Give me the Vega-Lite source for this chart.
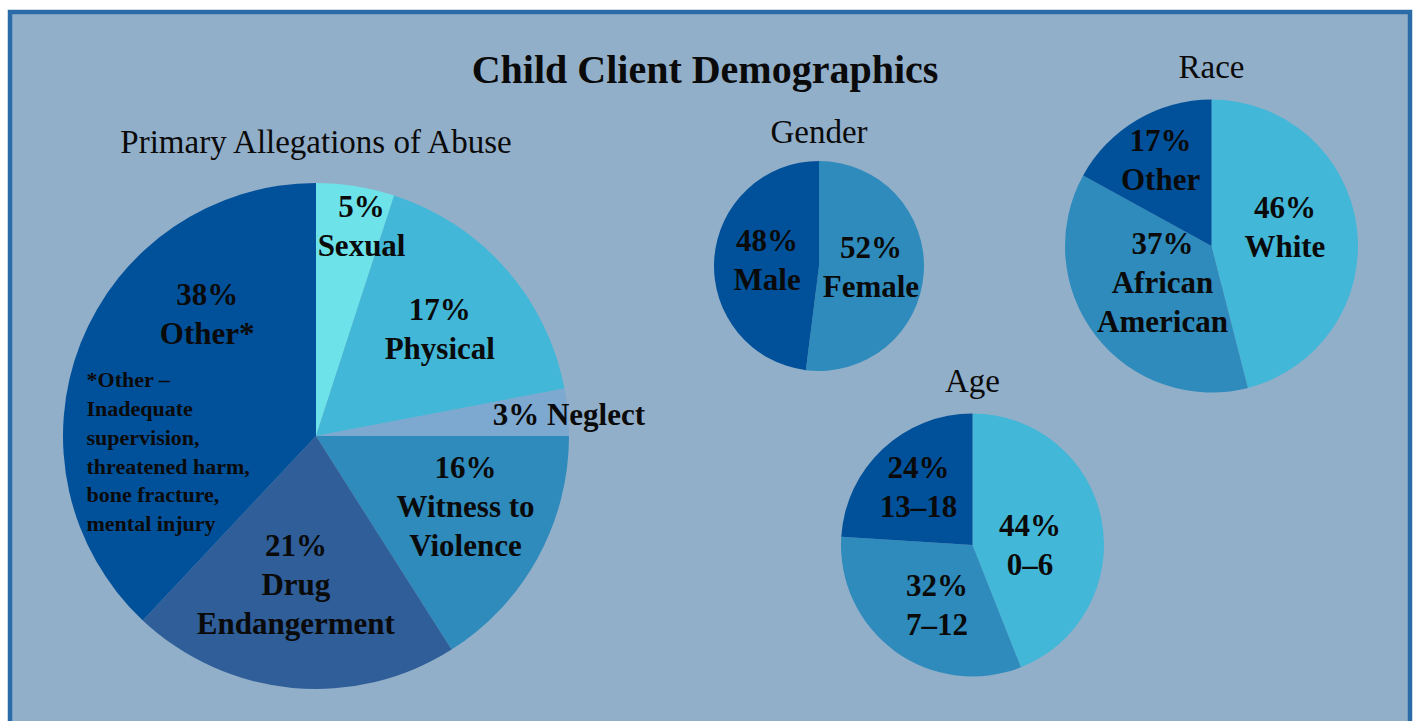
{
  "$schema": "https://vega.github.io/schema/vega-lite/v6.json",
  "width": 1417,
  "height": 721,
  "autosize": {"type": "fit", "contains": "padding"},
  "padding": {"left": 10, "top": 12, "right": 7, "bottom": -6},
  "background": "#ffffff",
  "config": {
    "view": {"fill": "#92AFC9", "stroke": "#2B6BA8", "strokeWidth": 4.5},
    "text": {"font": "Liberation Serif", "color": "#0a0a0a"}
  },
  "datasets": {
    "slices": [
      {"panel": 1, "i": 1, "category": "Sexual", "value": 5, "label": "5%\nSexual"},
      {"panel": 1, "i": 2, "category": "Physical", "value": 17, "label": "17%\nPhysical"},
      {"panel": 1, "i": 3, "category": "Neglect", "value": 3, "label": "3% Neglect"},
      {"panel": 1, "i": 4, "category": "Witness to Violence", "value": 16, "label": "16%\nWitness to\nViolence"},
      {"panel": 1, "i": 5, "category": "Drug Endangerment", "value": 21, "label": "21%\nDrug\nEndangerment"},
      {"panel": 1, "i": 6, "category": "Other*", "value": 38, "label": "38%\nOther*"},
      {"panel": 2, "i": 1, "category": "Female", "value": 52, "label": "52%\nFemale"},
      {"panel": 2, "i": 2, "category": "Male", "value": 48, "label": "48%\nMale"},
      {"panel": 3, "i": 1, "category": "White", "value": 46, "label": "46%\nWhite"},
      {"panel": 3, "i": 2, "category": "African American", "value": 37, "label": "37%\nAfrican\nAmerican"},
      {"panel": 3, "i": 3, "category": "Other", "value": 17, "label": "17%\nOther"},
      {"panel": 4, "i": 1, "category": "0–6", "value": 44, "label": "44%\n0–6"},
      {"panel": 4, "i": 2, "category": "7–12", "value": 32, "label": "32%\n7–12"},
      {"panel": 4, "i": 3, "category": "13–18", "value": 24, "label": "24%\n13–18"}
    ],
    "titles": [
      {"panel": 0, "title": "Child Client Demographics"},
      {"panel": 1, "title": "Primary Allegations of Abuse"},
      {"panel": 2, "title": "Gender"},
      {"panel": 3, "title": "Race"},
      {"panel": 4, "title": "Age"}
    ],
    "note": [
      {"panel": 1, "note": "*Other –\nInadequate\nsupervision,\nthreatened harm,\nbone fracture,\nmental injury"}
    ]
  },
  "data": {"name": "slices"},
  "resolve": {"scale": {"y": "independent"}},
  "layer": [
    {
      "transform": [{"filter": "datum.panel === 1"}],
      "mark": {"type": "arc", "radius": 253},
      "encoding": {
        "x": {"field": "panel", "type": "quantitative", "scale": {"type": "linear", "domain": [0, 1, 2, 3, 4], "range": [695, 306, 809, 1201.5, 962.5], "zero": false, "nice": false}, "axis": null},
        "y": {"field": "panel", "type": "quantitative", "scale": {"type": "linear", "domain": [1, 2, 3, 4], "range": [424, 254, 234, 533], "zero": false, "nice": false}, "axis": null},
        "theta": {"field": "value", "type": "quantitative", "stack": true, "scale": {"domain": [0, 100]}},
        "order": {"field": "i", "type": "quantitative"},
        "color": {"field": "category", "type": "nominal", "legend": null, "scale": {"domain": ["Sexual", "Physical", "Neglect", "Witness to Violence", "Drug Endangerment", "Other*", "Female", "Male", "White", "African American", "Other", "0–6", "7–12", "13–18"], "range": ["#6DE3E9", "#42B7D7", "#7DA8D0", "#2E8BBC", "#2F5E98", "#01519A", "#2E8BBC", "#01519A", "#42B7D7", "#2E8BBC", "#01519A", "#42B7D7", "#2E8BBC", "#01519A"]}}
      }
    },
    {
      "transform": [{"filter": "datum.panel === 2"}],
      "mark": {"type": "arc", "radius": 105},
      "encoding": {
        "x": {"field": "panel", "type": "quantitative", "scale": {"type": "linear", "domain": [0, 1, 2, 3, 4], "range": [695, 306, 809, 1201.5, 962.5], "zero": false, "nice": false}, "axis": null},
        "y": {"field": "panel", "type": "quantitative", "scale": {"type": "linear", "domain": [1, 2, 3, 4], "range": [424, 254, 234, 533], "zero": false, "nice": false}, "axis": null},
        "theta": {"field": "value", "type": "quantitative", "stack": true, "scale": {"domain": [0, 100]}},
        "order": {"field": "i", "type": "quantitative"},
        "color": {"field": "category", "type": "nominal", "legend": null}
      }
    },
    {
      "transform": [{"filter": "datum.panel === 3"}],
      "mark": {"type": "arc", "radius": 146.5},
      "encoding": {
        "x": {"field": "panel", "type": "quantitative", "scale": {"type": "linear", "domain": [0, 1, 2, 3, 4], "range": [695, 306, 809, 1201.5, 962.5], "zero": false, "nice": false}, "axis": null},
        "y": {"field": "panel", "type": "quantitative", "scale": {"type": "linear", "domain": [1, 2, 3, 4], "range": [424, 254, 234, 533], "zero": false, "nice": false}, "axis": null},
        "theta": {"field": "value", "type": "quantitative", "stack": true, "scale": {"domain": [0, 100]}},
        "order": {"field": "i", "type": "quantitative"},
        "color": {"field": "category", "type": "nominal", "legend": null}
      }
    },
    {
      "transform": [{"filter": "datum.panel === 4"}],
      "mark": {"type": "arc", "radius": 131.5},
      "encoding": {
        "x": {"field": "panel", "type": "quantitative", "scale": {"type": "linear", "domain": [0, 1, 2, 3, 4], "range": [695, 306, 809, 1201.5, 962.5], "zero": false, "nice": false}, "axis": null},
        "y": {"field": "panel", "type": "quantitative", "scale": {"type": "linear", "domain": [1, 2, 3, 4], "range": [424, 254, 234, 533], "zero": false, "nice": false}, "axis": null},
        "theta": {"field": "value", "type": "quantitative", "stack": true, "scale": {"domain": [0, 100]}},
        "order": {"field": "i", "type": "quantitative"},
        "color": {"field": "category", "type": "nominal", "legend": null}
      }
    },
    {
      "transform": [{"filter": "datum.panel === 1"}],
      "mark": {"type": "text", "radius": 165, "dy": -16, "fontSize": 31, "fontWeight": "bold", "lineHeight": 39, "lineBreak": "\n", "baseline": "middle", "align": "center"},
      "encoding": {
        "x": {"field": "panel", "type": "quantitative", "scale": {"type": "linear", "domain": [0, 1, 2, 3, 4], "range": [695, 306, 809, 1201.5, 962.5], "zero": false, "nice": false}, "axis": null},
        "y": {"field": "panel", "type": "quantitative", "scale": {"type": "linear", "domain": [1, 2, 3, 4], "range": [424, 254, 234, 533], "zero": false, "nice": false}, "axis": null},
        "theta": {"field": "value", "type": "quantitative", "stack": true, "scale": {"domain": [0, 100]}},
        "order": {"field": "i", "type": "quantitative"},
        "detail": {"field": "category", "type": "nominal"},
        "text": {"condition": {"test": "datum.category === 'Physical'", "field": "label", "type": "nominal"}, "value": ""}
      }
    },
    {
      "transform": [{"filter": "datum.panel === 1"}],
      "mark": {"type": "text", "radius": 214.5, "dx": 12, "dy": -16, "fontSize": 31, "fontWeight": "bold", "lineHeight": 39, "lineBreak": "\n", "baseline": "middle", "align": "center"},
      "encoding": {
        "x": {"field": "panel", "type": "quantitative", "scale": {"type": "linear", "domain": [0, 1, 2, 3, 4], "range": [695, 306, 809, 1201.5, 962.5], "zero": false, "nice": false}, "axis": null},
        "y": {"field": "panel", "type": "quantitative", "scale": {"type": "linear", "domain": [1, 2, 3, 4], "range": [424, 254, 234, 533], "zero": false, "nice": false}, "axis": null},
        "theta": {"field": "value", "type": "quantitative", "stack": true, "scale": {"domain": [0, 100]}},
        "order": {"field": "i", "type": "quantitative"},
        "detail": {"field": "category", "type": "nominal"},
        "text": {"condition": {"test": "datum.category === 'Sexual'", "field": "label", "type": "nominal"}, "value": ""}
      }
    },
    {
      "transform": [{"filter": "datum.panel === 1"}],
      "mark": {"type": "text", "radius": 254, "dy": 4, "fontSize": 31, "fontWeight": "bold", "lineHeight": 39, "lineBreak": "\n", "baseline": "middle", "align": "center"},
      "encoding": {
        "x": {"field": "panel", "type": "quantitative", "scale": {"type": "linear", "domain": [0, 1, 2, 3, 4], "range": [695, 306, 809, 1201.5, 962.5], "zero": false, "nice": false}, "axis": null},
        "y": {"field": "panel", "type": "quantitative", "scale": {"type": "linear", "domain": [1, 2, 3, 4], "range": [424, 254, 234, 533], "zero": false, "nice": false}, "axis": null},
        "theta": {"field": "value", "type": "quantitative", "stack": true, "scale": {"domain": [0, 100]}},
        "order": {"field": "i", "type": "quantitative"},
        "detail": {"field": "category", "type": "nominal"},
        "text": {"condition": {"test": "datum.category === 'Neglect'", "field": "label", "type": "nominal"}, "value": ""}
      }
    },
    {
      "transform": [{"filter": "datum.panel === 1"}],
      "mark": {"type": "text", "radius": 166, "dx": 4, "dy": -47, "fontSize": 31, "fontWeight": "bold", "lineHeight": 39, "lineBreak": "\n", "baseline": "middle", "align": "center"},
      "encoding": {
        "x": {"field": "panel", "type": "quantitative", "scale": {"type": "linear", "domain": [0, 1, 2, 3, 4], "range": [695, 306, 809, 1201.5, 962.5], "zero": false, "nice": false}, "axis": null},
        "y": {"field": "panel", "type": "quantitative", "scale": {"type": "linear", "domain": [1, 2, 3, 4], "range": [424, 254, 234, 533], "zero": false, "nice": false}, "axis": null},
        "theta": {"field": "value", "type": "quantitative", "stack": true, "scale": {"domain": [0, 100]}},
        "order": {"field": "i", "type": "quantitative"},
        "detail": {"field": "category", "type": "nominal"},
        "text": {"condition": {"test": "datum.category === 'Witness to Violence'", "field": "label", "type": "nominal"}, "value": ""}
      }
    },
    {
      "transform": [{"filter": "datum.panel === 1"}],
      "mark": {"type": "text", "radius": 150, "dx": -6, "dy": -38, "fontSize": 31, "fontWeight": "bold", "lineHeight": 39, "lineBreak": "\n", "baseline": "middle", "align": "center"},
      "encoding": {
        "x": {"field": "panel", "type": "quantitative", "scale": {"type": "linear", "domain": [0, 1, 2, 3, 4], "range": [695, 306, 809, 1201.5, 962.5], "zero": false, "nice": false}, "axis": null},
        "y": {"field": "panel", "type": "quantitative", "scale": {"type": "linear", "domain": [1, 2, 3, 4], "range": [424, 254, 234, 533], "zero": false, "nice": false}, "axis": null},
        "theta": {"field": "value", "type": "quantitative", "stack": true, "scale": {"domain": [0, 100]}},
        "order": {"field": "i", "type": "quantitative"},
        "detail": {"field": "category", "type": "nominal"},
        "text": {"condition": {"test": "datum.category === 'Drug Endangerment'", "field": "label", "type": "nominal"}, "value": ""}
      }
    },
    {
      "transform": [{"filter": "datum.category === 'Other*'"}],
      "mark": {"type": "text", "radius": 163, "theta": 5.552, "dy": -19, "fontSize": 31, "fontWeight": "bold", "lineHeight": 39, "lineBreak": "\n", "baseline": "middle", "align": "center"},
      "encoding": {
        "x": {"field": "panel", "type": "quantitative", "scale": {"type": "linear", "domain": [0, 1, 2, 3, 4], "range": [695, 306, 809, 1201.5, 962.5], "zero": false, "nice": false}, "axis": null},
        "y": {"field": "panel", "type": "quantitative", "scale": {"type": "linear", "domain": [1, 2, 3, 4], "range": [424, 254, 234, 533], "zero": false, "nice": false}, "axis": null},
        "text": {"field": "label", "type": "nominal"}
      }
    },
    {
      "data": {"name": "note"},
      "mark": {"type": "text", "radius": 230, "theta": 4.645, "dy": -71, "fontSize": 22, "fontWeight": "bold", "lineHeight": 28.7, "lineBreak": "\n", "baseline": "middle", "align": "left"},
      "encoding": {
        "x": {"field": "panel", "type": "quantitative", "scale": {"type": "linear", "domain": [0, 1, 2, 3, 4], "range": [695, 306, 809, 1201.5, 962.5], "zero": false, "nice": false}, "axis": null},
        "y": {"field": "panel", "type": "quantitative", "scale": {"type": "linear", "domain": [1, 2, 3, 4], "range": [424, 254, 234, 533], "zero": false, "nice": false}, "axis": null},
        "text": {"field": "note", "type": "nominal"}
      }
    },
    {
      "transform": [{"filter": "datum.panel === 2"}],
      "mark": {"type": "text", "radius": 52, "dy": -20.5, "fontSize": 31, "fontWeight": "bold", "lineHeight": 39, "lineBreak": "\n", "baseline": "middle", "align": "center"},
      "encoding": {
        "x": {"field": "panel", "type": "quantitative", "scale": {"type": "linear", "domain": [0, 1, 2, 3, 4], "range": [695, 306, 809, 1201.5, 962.5], "zero": false, "nice": false}, "axis": null},
        "y": {"field": "panel", "type": "quantitative", "scale": {"type": "linear", "domain": [1, 2, 3, 4], "range": [424, 254, 234, 533], "zero": false, "nice": false}, "axis": null},
        "theta": {"field": "value", "type": "quantitative", "stack": true, "scale": {"domain": [0, 100]}},
        "order": {"field": "i", "type": "quantitative"},
        "detail": {"field": "category", "type": "nominal"},
        "text": {"field": "label", "type": "nominal"}
      }
    },
    {
      "transform": [{"filter": "datum.panel === 3"}],
      "mark": {"type": "text", "radius": 74, "dy": -28, "fontSize": 31, "fontWeight": "bold", "lineHeight": 39, "lineBreak": "\n", "baseline": "middle", "align": "center"},
      "encoding": {
        "x": {"field": "panel", "type": "quantitative", "scale": {"type": "linear", "domain": [0, 1, 2, 3, 4], "range": [695, 306, 809, 1201.5, 962.5], "zero": false, "nice": false}, "axis": null},
        "y": {"field": "panel", "type": "quantitative", "scale": {"type": "linear", "domain": [1, 2, 3, 4], "range": [424, 254, 234, 533], "zero": false, "nice": false}, "axis": null},
        "theta": {"field": "value", "type": "quantitative", "stack": true, "scale": {"domain": [0, 100]}},
        "order": {"field": "i", "type": "quantitative"},
        "detail": {"field": "category", "type": "nominal"},
        "text": {"condition": {"test": "datum.category === 'White'", "field": "label", "type": "nominal"}, "value": ""}
      }
    },
    {
      "transform": [{"filter": "datum.panel === 3"}],
      "mark": {"type": "text", "radius": 62, "dy": -39, "fontSize": 31, "fontWeight": "bold", "lineHeight": 39, "lineBreak": "\n", "baseline": "middle", "align": "center"},
      "encoding": {
        "x": {"field": "panel", "type": "quantitative", "scale": {"type": "linear", "domain": [0, 1, 2, 3, 4], "range": [695, 306, 809, 1201.5, 962.5], "zero": false, "nice": false}, "axis": null},
        "y": {"field": "panel", "type": "quantitative", "scale": {"type": "linear", "domain": [1, 2, 3, 4], "range": [424, 254, 234, 533], "zero": false, "nice": false}, "axis": null},
        "theta": {"field": "value", "type": "quantitative", "stack": true, "scale": {"domain": [0, 100]}},
        "order": {"field": "i", "type": "quantitative"},
        "detail": {"field": "category", "type": "nominal"},
        "text": {"condition": {"test": "datum.category === 'African American'", "field": "label", "type": "nominal"}, "value": ""}
      }
    },
    {
      "transform": [{"filter": "datum.panel === 3"}],
      "mark": {"type": "text", "radius": 100, "dy": -18, "fontSize": 31, "fontWeight": "bold", "lineHeight": 39, "lineBreak": "\n", "baseline": "middle", "align": "center"},
      "encoding": {
        "x": {"field": "panel", "type": "quantitative", "scale": {"type": "linear", "domain": [0, 1, 2, 3, 4], "range": [695, 306, 809, 1201.5, 962.5], "zero": false, "nice": false}, "axis": null},
        "y": {"field": "panel", "type": "quantitative", "scale": {"type": "linear", "domain": [1, 2, 3, 4], "range": [424, 254, 234, 533], "zero": false, "nice": false}, "axis": null},
        "theta": {"field": "value", "type": "quantitative", "stack": true, "scale": {"domain": [0, 100]}},
        "order": {"field": "i", "type": "quantitative"},
        "detail": {"field": "category", "type": "nominal"},
        "text": {"condition": {"test": "datum.category === 'Other'", "field": "label", "type": "nominal"}, "value": ""}
      }
    },
    {
      "transform": [{"filter": "datum.panel === 4"}],
      "mark": {"type": "text", "radius": 58.5, "dy": -7, "fontSize": 31, "fontWeight": "bold", "lineHeight": 39, "lineBreak": "\n", "baseline": "middle", "align": "center"},
      "encoding": {
        "x": {"field": "panel", "type": "quantitative", "scale": {"type": "linear", "domain": [0, 1, 2, 3, 4], "range": [695, 306, 809, 1201.5, 962.5], "zero": false, "nice": false}, "axis": null},
        "y": {"field": "panel", "type": "quantitative", "scale": {"type": "linear", "domain": [1, 2, 3, 4], "range": [424, 254, 234, 533], "zero": false, "nice": false}, "axis": null},
        "theta": {"field": "value", "type": "quantitative", "stack": true, "scale": {"domain": [0, 100]}},
        "order": {"field": "i", "type": "quantitative"},
        "detail": {"field": "category", "type": "nominal"},
        "text": {"condition": {"test": "datum.category === '0–6'", "field": "label", "type": "nominal"}, "value": ""}
      }
    },
    {
      "transform": [{"filter": "datum.panel === 4"}],
      "mark": {"type": "text", "radius": 70.6, "dx": 6, "dy": -15, "fontSize": 31, "fontWeight": "bold", "lineHeight": 39, "lineBreak": "\n", "baseline": "middle", "align": "center"},
      "encoding": {
        "x": {"field": "panel", "type": "quantitative", "scale": {"type": "linear", "domain": [0, 1, 2, 3, 4], "range": [695, 306, 809, 1201.5, 962.5], "zero": false, "nice": false}, "axis": null},
        "y": {"field": "panel", "type": "quantitative", "scale": {"type": "linear", "domain": [1, 2, 3, 4], "range": [424, 254, 234, 533], "zero": false, "nice": false}, "axis": null},
        "theta": {"field": "value", "type": "quantitative", "stack": true, "scale": {"domain": [0, 100]}},
        "order": {"field": "i", "type": "quantitative"},
        "detail": {"field": "category", "type": "nominal"},
        "text": {"condition": {"test": "datum.category === '7–12'", "field": "label", "type": "nominal"}, "value": ""}
      }
    },
    {
      "transform": [{"filter": "datum.panel === 4"}],
      "mark": {"type": "text", "radius": 79, "dy": -18.5, "fontSize": 31, "fontWeight": "bold", "lineHeight": 39, "lineBreak": "\n", "baseline": "middle", "align": "center"},
      "encoding": {
        "x": {"field": "panel", "type": "quantitative", "scale": {"type": "linear", "domain": [0, 1, 2, 3, 4], "range": [695, 306, 809, 1201.5, 962.5], "zero": false, "nice": false}, "axis": null},
        "y": {"field": "panel", "type": "quantitative", "scale": {"type": "linear", "domain": [1, 2, 3, 4], "range": [424, 254, 234, 533], "zero": false, "nice": false}, "axis": null},
        "theta": {"field": "value", "type": "quantitative", "stack": true, "scale": {"domain": [0, 100]}},
        "order": {"field": "i", "type": "quantitative"},
        "detail": {"field": "category", "type": "nominal"},
        "text": {"condition": {"test": "datum.category === '13–18'", "field": "label", "type": "nominal"}, "value": ""}
      }
    },
    {
      "data": {"name": "titles"},
      "transform": [{"filter": "datum.panel === 0"}],
      "mark": {"type": "text", "fontSize": 40, "fontWeight": "bold", "baseline": "alphabetic", "align": "center"},
      "encoding": {
        "x": {"field": "panel", "type": "quantitative", "scale": {"type": "linear", "domain": [0, 1, 2, 3, 4], "range": [695, 306, 809, 1201.5, 962.5], "zero": false, "nice": false}, "axis": null},
        "y": {"field": "panel", "type": "quantitative", "scale": {"type": "linear", "domain": [0, 1, 2, 3, 4], "range": [71, 141, 131, 66, 380], "zero": false, "nice": false}, "axis": null},
        "text": {"field": "title", "type": "nominal"}
      }
    },
    {
      "data": {"name": "titles"},
      "transform": [{"filter": "datum.panel > 0"}],
      "mark": {"type": "text", "fontSize": 33, "fontWeight": "normal", "baseline": "alphabetic", "align": "center"},
      "encoding": {
        "x": {"field": "panel", "type": "quantitative", "scale": {"type": "linear", "domain": [0, 1, 2, 3, 4], "range": [695, 306, 809, 1201.5, 962.5], "zero": false, "nice": false}, "axis": null},
        "y": {"field": "panel", "type": "quantitative", "scale": {"type": "linear", "domain": [0, 1, 2, 3, 4], "range": [71, 141, 131, 66, 380], "zero": false, "nice": false}, "axis": null},
        "text": {"field": "title", "type": "nominal"}
      }
    }
  ]
}
